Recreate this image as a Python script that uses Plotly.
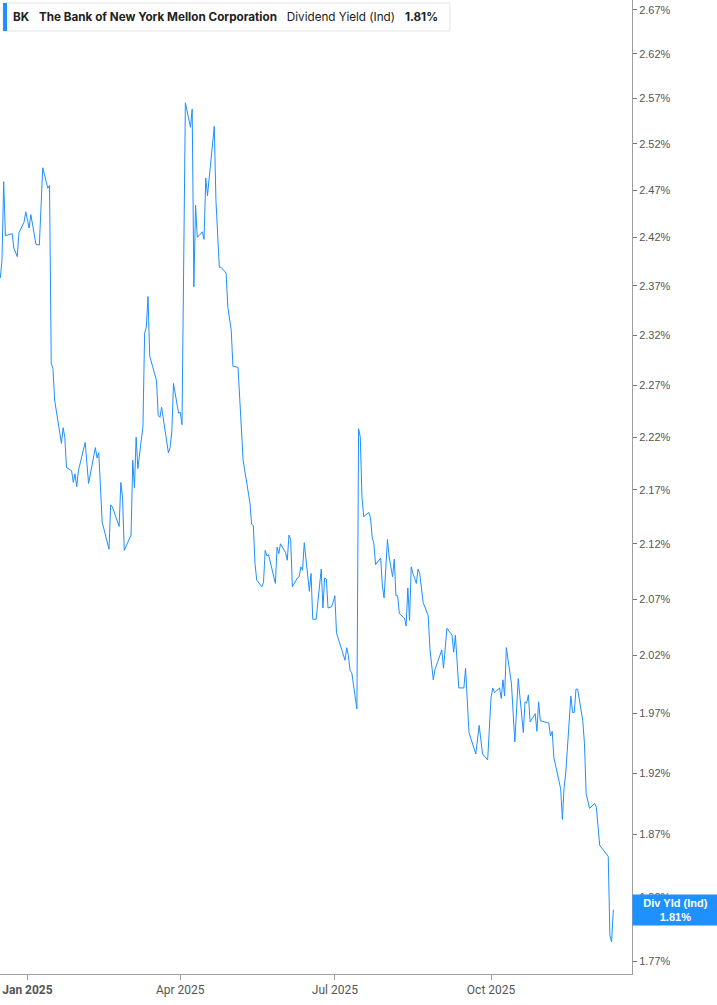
import math
import plotly.graph_objects as go

dates = [
    "2024-12-16", "2024-12-17", "2024-12-18", "2024-12-19", "2024-12-23", "2024-12-24", "2024-12-26",
    "2024-12-27", "2024-12-30", "2024-12-31", "2025-01-02", "2025-01-03", "2025-01-06", "2025-01-08",
    "2025-01-10", "2025-01-13", "2025-01-14", "2025-01-15", "2025-01-16", "2025-01-17", "2025-01-21",
    "2025-01-22", "2025-01-23", "2025-01-24", "2025-01-27", "2025-01-28", "2025-01-29", "2025-01-30",
    "2025-01-31", "2025-02-04", "2025-02-06", "2025-02-10", "2025-02-11", "2025-02-12", "2025-02-14",
    "2025-02-18", "2025-02-19", "2025-02-20", "2025-02-24", "2025-02-25", "2025-02-26", "2025-02-27",
    "2025-03-03", "2025-03-04", "2025-03-05", "2025-03-06", "2025-03-07", "2025-03-10", "2025-03-11",
    "2025-03-12", "2025-03-13", "2025-03-14", "2025-03-18", "2025-03-19", "2025-03-20", "2025-03-21",
    "2025-03-25", "2025-03-26", "2025-03-27", "2025-03-28", "2025-03-31", "2025-04-01", "2025-04-02",
    "2025-04-03", "2025-04-04", "2025-04-07", "2025-04-08", "2025-04-09", "2025-04-10", "2025-04-11",
    "2025-04-14", "2025-04-15", "2025-04-16", "2025-04-17", "2025-04-18", "2025-04-21", "2025-04-22",
    "2025-04-24", "2025-04-25", "2025-04-28", "2025-04-29", "2025-05-01", "2025-05-02", "2025-05-05",
    "2025-05-08", "2025-05-12", "2025-05-13", "2025-05-14", "2025-05-15", "2025-05-16", "2025-05-19",
    "2025-05-20", "2025-05-21", "2025-05-22", "2025-05-23", "2025-05-27", "2025-05-28", "2025-05-29",
    "2025-05-30", "2025-06-02", "2025-06-03", "2025-06-04", "2025-06-05", "2025-06-06", "2025-06-09",
    "2025-06-10", "2025-06-11", "2025-06-12", "2025-06-13", "2025-06-16", "2025-06-17", "2025-06-18",
    "2025-06-20", "2025-06-23", "2025-06-24", "2025-06-25", "2025-06-26", "2025-06-27", "2025-06-29",
    "2025-06-30", "2025-07-01", "2025-07-02", "2025-07-03", "2025-07-07", "2025-07-08", "2025-07-09",
    "2025-07-10", "2025-07-11", "2025-07-14", "2025-07-15", "2025-07-16", "2025-07-17", "2025-07-18",
    "2025-07-21", "2025-07-22", "2025-07-23", "2025-07-24", "2025-07-25", "2025-07-28", "2025-07-29",
    "2025-07-30", "2025-08-01", "2025-08-02", "2025-08-04", "2025-08-05", "2025-08-06", "2025-08-07",
    "2025-08-08", "2025-08-11", "2025-08-12", "2025-08-13", "2025-08-14", "2025-08-15", "2025-08-16",
    "2025-08-18", "2025-08-19", "2025-08-20", "2025-08-22", "2025-08-25", "2025-08-26", "2025-08-28",
    "2025-08-29", "2025-09-02", "2025-09-03", "2025-09-05", "2025-09-08", "2025-09-09", "2025-09-10",
    "2025-09-12", "2025-09-15", "2025-09-16", "2025-09-18", "2025-09-22", "2025-09-24", "2025-09-26",
    "2025-09-29", "2025-10-01", "2025-10-02", "2025-10-03", "2025-10-06", "2025-10-07", "2025-10-08",
    "2025-10-09", "2025-10-10", "2025-10-13", "2025-10-15", "2025-10-17", "2025-10-20", "2025-10-21",
    "2025-10-22", "2025-10-23", "2025-10-24", "2025-10-27", "2025-10-28", "2025-10-29", "2025-10-30",
    "2025-11-04", "2025-11-05", "2025-11-06", "2025-11-07", "2025-11-11", "2025-11-12", "2025-11-13",
    "2025-11-14", "2025-11-17", "2025-11-18", "2025-11-19", "2025-11-20", "2025-11-21", "2025-11-24",
    "2025-11-25", "2025-11-26", "2025-11-28", "2025-12-01", "2025-12-02", "2025-12-04", "2025-12-08",
    "2025-12-09", "2025-12-10", "2025-12-11", "2025-12-12",
]

div_yield = [
    2.378, 2.396, 2.479, 2.422, 2.424, 2.409, 2.400,
    2.425, 2.436, 2.447, 2.430, 2.444, 2.413, 2.412,
    2.494, 2.472, 2.475, 2.292, 2.287, 2.256, 2.214,
    2.229, 2.220, 2.191, 2.188, 2.177, 2.185, 2.173,
    2.188, 2.215, 2.176, 2.210, 2.200, 2.205, 2.140,
    2.115, 2.156, 2.154, 2.136, 2.177, 2.163, 2.114,
    2.128, 2.198, 2.172, 2.220, 2.190, 2.230, 2.322,
    2.328, 2.359, 2.299, 2.275, 2.241, 2.239, 2.249,
    2.205, 2.210, 2.225, 2.272, 2.243, 2.244, 2.232,
    2.376, 2.565, 2.538, 2.558, 2.369, 2.454, 2.420,
    2.426, 2.418, 2.483, 2.464, 2.481, 2.539, 2.459,
    2.389, 2.389, 2.383, 2.348, 2.325, 2.289, 2.288,
    2.198, 2.158, 2.138, 2.137, 2.102, 2.087, 2.081,
    2.085, 2.114, 2.109, 2.110, 2.084, 2.117, 2.111,
    2.120, 2.112, 2.105, 2.128, 2.124, 2.081, 2.089,
    2.090, 2.099, 2.096, 2.121, 2.077, 2.093, 2.052,
    2.052, 2.097, 2.062, 2.089, 2.088, 2.062, 2.063,
    2.067, 2.073, 2.040, 2.035, 2.016, 2.027, 2.020,
    2.007, 2.005, 1.974, 2.228, 2.220, 2.163, 2.145,
    2.149, 2.144, 2.126, 2.120, 2.101, 2.107, 2.082,
    2.071, 2.124, 2.108, 2.090, 2.106, 2.073, 2.073,
    2.057, 2.053, 2.046, 2.080, 2.051, 2.099, 2.093,
    2.084, 2.097, 2.093, 2.067, 2.055, 2.026, 1.999,
    2.008, 2.025, 2.009, 2.044, 2.038, 2.023, 2.038,
    1.992, 1.992, 2.009, 1.954, 1.936, 1.960, 1.936,
    1.931, 1.984, 1.992, 1.988, 1.992, 1.983, 1.999,
    1.985, 2.027, 1.996, 1.946, 2.000, 1.954, 1.980,
    1.979, 1.986, 1.963, 1.970, 1.955, 1.980, 1.964,
    1.962, 1.951, 1.955, 1.933, 1.907, 1.882, 1.908,
    1.920, 1.985, 1.971, 1.971, 1.991, 1.991, 1.964,
    1.945, 1.903, 1.891, 1.895, 1.892, 1.861, 1.854,
    1.852, 1.790, 1.785, 1.810,
]

y_ticks = [1.77, 1.82, 1.87, 1.92, 1.97, 2.02, 2.07, 2.12, 2.17, 2.22, 2.27, 2.32,
           2.37, 2.42, 2.47, 2.52, 2.57, 2.62, 2.67]
y_tick_labels = [f"{v:.2f}%" for v in y_ticks]
x_ticks = ["2025-01-01", "2025-04-01", "2025-07-01", "2025-10-01"]
x_tick_labels = ["<b>Jan 2025</b>", "Apr 2025", "Jul 2025", "Oct 2025"]

ticker = "BK"
company = "The Bank of New York Mellon Corporation"
metric = "Dividend Yield (Ind)"
last_label = "Div Yld (Ind)"
last_value = div_yield[-1]

LINE = "#1f8fff"
AXIS_FONT = "Liberation Sans Narrow, Roboto, Arial, sans-serif"

fig = go.Figure()
fig.add_trace(go.Scatter(
    x=dates, y=div_yield, mode="lines",
    line=dict(color=LINE, width=1.0),
    showlegend=False, hoverinfo="x+y",
))

fig.update_layout(
    width=717, height=1005,
    margin=dict(l=0, r=85, t=0, b=31),
    paper_bgcolor="white", plot_bgcolor="white",
    showlegend=False,
    xaxis=dict(
        type="date",
        range=["2024-12-15 20:00", "2025-12-23 00:00"],
        tickvals=x_ticks, ticktext=x_tick_labels,
        showgrid=False, zeroline=False,
        showline=True, linecolor="#9e9e9e", linewidth=1,
        ticks="outside", ticklen=5, tickcolor="#9e9e9e",
        tickfont=dict(family=AXIS_FONT, size=12, color="#555555"),
    ),
    yaxis=dict(
        type="log", side="right",
        range=[math.log10(1.7604), math.log10(2.6815)],
        tickvals=y_ticks, ticktext=y_tick_labels,
        showgrid=False, zeroline=False,
        showline=True, linecolor="#9e9e9e", linewidth=1,
        ticks="outside", ticklen=4, tickcolor="#777777",
        tickfont=dict(family="Arial, Liberation Sans, sans-serif", size=11, color="#555555"),
    ),
)

# header box (legend-like)
fig.add_shape(type="rect", xref="paper", yref="paper",
              x0=0.0048, x1=0.712, y0=0.9682, y1=0.9969,
              fillcolor="white", line=dict(color="#e3e3e3", width=1), layer="above")
fig.add_shape(type="rect", xref="paper", yref="paper",
              x0=0.0048, x1=0.0111, y0=0.9682, y1=0.9969,
              fillcolor=LINE, line=dict(width=0), layer="above")
fig.add_annotation(
    xref="paper", yref="paper", x=0.017, y=0.9826, xanchor="left", yanchor="middle",
    text=(f"<b>{ticker}</b>&nbsp;&nbsp;&nbsp;<b>{company}</b>&nbsp;&nbsp;&nbsp;"
          f"{metric}&nbsp;&nbsp;&nbsp;<b>{last_value:.2f}%</b>"),
    showarrow=False, align="left",
    font=dict(family="Inter, Arial, sans-serif", size=11.7, color="#222222"),
)

# last value label on the right axis
fig.add_annotation(
    xref="paper", yref="y", x=1.0, y=math.log10(last_value), xanchor="left", yanchor="middle",
    text=f"<b>{last_label}<br>{last_value:.2f}%</b>",
    showarrow=False, align="center", width=81,
    font=dict(family="Arial, Liberation Sans, sans-serif", size=11, color="white"),
    bgcolor="#1e90ff", borderpad=2,
)

fig.write_html("out.html", config={"displayModeBar": False},
               post_script="document.body.style.margin='0';")
